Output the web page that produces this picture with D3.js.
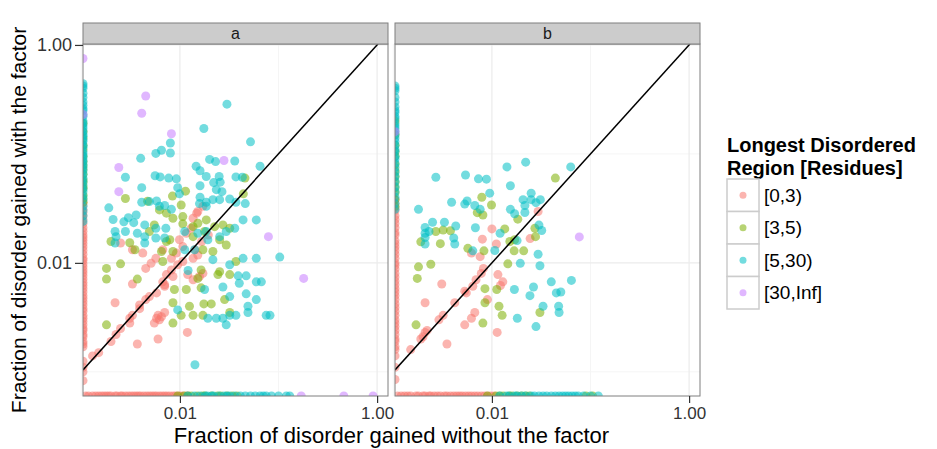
<!DOCTYPE html>
<html lang="en">
<head>
<meta charset="UTF-8">
<script src="https://cdn.jsdelivr.net/npm/d3@7"></script>
<title>Disorder gained</title>
<style>
    body { margin: 0; background: #fff; }
    svg text { font-family: "Liberation Sans", Arial, sans-serif; }
</style>
</head>
<body>
<div id="chart"></div>
<script>
// facets, legend groups and breaks
var facets = ["a", "b"];
var groups = ["[0,3)", "[3,5)", "[5,30)", "[30,Inf]"];
var groupColors = ["#F8766D", "#7CAE00", "#00BFC4", "#C77CFF"];
var tickValues = [0.01, 1];
var tickLabels = ["0.01", "1.00"];
var minorBreaks = [0.001, 0.1];

// [fraction without factor, fraction with factor, group]
var pointsA = [
    [0.0025,0.0152,0],[0.0042,0.0123,0],[0.0033,0.0132,0],[0.0045,0.0089,0],[0.0051,0.0099,0],[0.0057,0.011,0],
    [0.0067,0.0132,0],[0.0082,0.011,0],[0.0092,0.0123,0],[0.0107,0.0141,0],[0.0099,0.0163,0],[0.0116,0.0187,0],
    [0.013,0.0208,0],[0.0136,0.0257,0],[0.0152,0.0296,0],[0.0171,0.033,0],[0.0033,0.0064,0],[0.0067,0.0067,0],
    [0.0073,0.0078,0],[0.0082,0.0086,0],[0.0095,0.0096,0],[0.0107,0.0103,0],[0.007,0.0061,0],[0.0136,0.011,0],
    [0.0152,0.0118,0],[0.012,0.0078,0],[0.0136,0.007,0],[0.0158,0.0075,0],[0.0171,0.008,0],[0.0022,0.0043,0],
    [0.0039,0.0041,0],[0.0045,0.0046,0],[0.0049,0.0049,0],[0.0033,0.0033,0],[0.0031,0.0028,0],[0.0025,0.0025,0],
    [0.006,0.0033,0],[0.0062,0.003,0],[0.0055,0.0028,0],[0.007,0.0035,0],[0.0058,0.0031,0],[0.0065,0.0032,0],
    [0.0015,0.0015,0],[0.002,0.0019,0],[0.00225,0.0022,0],[0.0037,0.0018,0],[0.006,0.002,0],[0.0119,0.0023,0],
    [0.0031,0.0031,0],[0.0039,0.0038,0],[0.0058,0.0053,0],[0.007,0.0063,0],[0.0085,0.0075,0],[0.0142,0.0132,0],
    [0.0166,0.0157,0],[0.0194,0.018,0],[0.0148,0.0286,0],[0.0013,0.0014,0],
    [0.0457,0.06,1],[0.0114,0.0455,1],[0.0084,0.041,1],[0.044,0.043,1],[0.0028,0.039,1],[0.0047,0.0368,1],
    [0.0103,0.034,1],[0.0062,0.0306,1],[0.0073,0.0286,1],[0.0085,0.0257,1],[0.0107,0.0266,1],[0.002,0.0157,1],
    [0.0031,0.0153,1],[0.0035,0.0132,1],[0.0049,0.0194,1],[0.0055,0.0223,1],[0.0073,0.0157,1],[0.0079,0.0163,1],
    [0.0065,0.0127,1],[0.0085,0.0127,1],[0.0067,0.0103,1],[0.0025,0.0098,1],[0.0107,0.0228,1],[0.0136,0.0215,1],
    [0.0152,0.0231,1],[0.0185,0.0248,1],[0.0178,0.0194,1],[0.0225,0.0215,1],[0.0273,0.0223,1],[0.032,0.0208,1],
    [0.0136,0.0174,1],[0.0171,0.0132,1],[0.0216,0.0127,1],[0.0253,0.0163,1],[0.0295,0.0146,1],[0.037,0.0103,1],
    [0.0018,0.0089,1],[0.0018,0.0071,1],[0.0037,0.0071,1],[0.0152,0.0072,1],[0.0164,0.0086,1],[0.0253,0.0083,1],
    [0.0243,0.0078,1],[0.032,0.0078,1],[0.0088,0.0057,1],[0.0116,0.0057,1],[0.0164,0.0059,1],[0.0284,0.0046,1],
    [0.0085,0.0043,1],[0.0125,0.004,1],[0.0175,0.0042,1],[0.0208,0.0042,1],[0.0103,0.0033,1],[0.0171,0.0033,1],
    [0.0136,0.0033,1],[0.032,0.0035,1],[0.0018,0.0027,1],[0.0085,0.0028,1],
    [0.03,0.286,2],[0.0175,0.171,2],[0.008,0.126,2],[0.052,0.129,2],[0.0065,0.108,2],[0.0057,0.101,2],
    [0.008,0.102,2],[0.004,0.091,2],[0.02,0.089,2],[0.023,0.085,2],[0.036,0.086,2],[0.065,0.077,2],
    [0.0146,0.077,2],[0.016,0.07,2],[0.0028,0.061,2],[0.0056,0.063,2],[0.0063,0.0615,2],[0.0077,0.06,2],
    [0.0092,0.059,2],[0.0185,0.062,2],[0.025,0.062,2],[0.022,0.0545,2],[0.0256,0.055,2],[0.037,0.0615,2],
    [0.043,0.061,2],[0.0095,0.049,2],[0.016,0.051,2],[0.0041,0.049,2],[0.0234,0.047,2],[0.0267,0.045,2],
    [0.0099,0.043,2],[0.016,0.04,2],[0.0041,0.036,2],[0.0058,0.037,2],[0.0185,0.036,2],[0.0216,0.038,2],
    [0.0253,0.038,2],[0.032,0.0386,2],[0.046,0.035,2],[0.0019,0.032,2],[0.0062,0.033,2],[0.007,0.0336,2],
    [0.0049,0.0365,2],[0.0082,0.031,2],[0.0158,0.035,2],[0.0185,0.033,2],[0.037,0.036,2],[0.0021,0.025,2],
    [0.003,0.026,2],[0.0036,0.0275,2],[0.0027,0.0238,2],[0.0034,0.0234,2],[0.0044,0.0223,2],[0.0022,0.0194,2],
    [0.00225,0.0174,2],[0.0022,0.0152,2],[0.0028,0.0194,2],[0.0037,0.0187,2],[0.0044,0.0174,2],[0.0044,0.0152,2],
    [0.0057,0.0208,2],[0.0072,0.0208,2],[0.0057,0.0169,2],[0.007,0.0169,2],[0.0112,0.0194,2],[0.0152,0.0187,2],
    [0.0185,0.0194,2],[0.0192,0.0163,2],[0.0253,0.0174,2],[0.0295,0.0194,2],[0.036,0.0208,2],[0.0437,0.0248,2],
    [0.0595,0.0248,2],[0.0112,0.0132,2],[0.0141,0.0132,2],[0.0216,0.0107,2],[0.032,0.0096,2],[0.0437,0.011,2],
    [0.0595,0.011,2],[0.103,0.0113,2],[0.0121,0.0085,2],[0.0178,0.0057,2],[0.0273,0.006,2],[0.032,0.0049,2],
    [0.039,0.0076,2],[0.047,0.0076,2],[0.04,0.0065,2],[0.0595,0.0067,2],[0.067,0.0067,2],[0.047,0.0052,2],
    [0.0595,0.0046,2],[0.049,0.004,2],[0.0095,0.0037,2],[0.0192,0.0031,2],[0.0234,0.0031,2],[0.0273,0.0031,2],
    [0.032,0.0033,2],[0.037,0.0033,2],[0.049,0.0035,2],[0.075,0.0033,2],[0.082,0.0033,2],[0.0295,0.0027,2],
    [0.0142,0.00116,2],
    [0.0045,0.34,3],[0.0041,0.236,3],[0.0082,0.153,3],[0.028,0.087,3],[0.0024,0.075,3],[0.0024,0.045,3],
    [0.079,0.0174,3],[0.18,0.0072,3]
];

var pointsB = [
    [0.0294,0.0296,0],[0.01,0.0205,0],[0.0244,0.0167,0],[0.008,0.0165,0],[0.0111,0.0149,0],[0.0062,0.0123,0],
    [0.0076,0.0114,0],[0.0082,0.0089,0],[0.0115,0.0078,0],[0.0031,0.0064,0],[0.0129,0.0067,0],[0.0122,0.0062,0],
    [0.0078,0.008,0],[0.0069,0.007,0],[0.0064,0.0061,0],[0.0055,0.0053,0],[0.0042,0.0043,0],[0.0032,0.0033,0],
    [0.0029,0.003,0],[0.0021,0.0023,0],[0.002,0.0021,0],[0.0015,0.0016,0],[0.0021,0.0043,0],[0.009,0.0046,0],
    [0.0062,0.0031,0],[0.0067,0.0035,0],[0.0053,0.0027,0],[0.0113,0.0023,0],[0.0035,0.0018,0],[0.0019,0.002,0],
    [0.0022,0.0024,0],[0.0053,0.0055,0],
    [0.044,0.06,1],[0.0079,0.04,1],[0.0099,0.034,1],[0.0071,0.0289,1],[0.0081,0.0275,1],[0.0183,0.0252,1],
    [0.0027,0.0194,1],[0.0032,0.02,1],[0.0038,0.0197,1],[0.0135,0.0205,1],[0.0273,0.0208,1],[0.0277,0.0174,1],
    [0.0019,0.0156,1],[0.003,0.015,1],[0.0152,0.0157,1],[0.017,0.0163,1],[0.0057,0.0136,1],[0.0083,0.0129,1],
    [0.0168,0.0129,1],[0.021,0.0129,1],[0.0018,0.0092,1],[0.0024,0.0097,1],[0.0145,0.0098,1],[0.00175,0.0072,1],
    [0.0085,0.0058,1],[0.0112,0.0057,1],[0.0085,0.0043,1],[0.0118,0.004,1],[0.0127,0.0033,1],[0.0307,0.0035,1],
    [0.0017,0.0027,1],[0.0081,0.0028,1],
    [0.0142,0.076,2],[0.022,0.084,2],[0.063,0.076,2],[0.0027,0.061,2],[0.0054,0.064,2],[0.0073,0.059,2],
    [0.0088,0.0586,2],[0.0154,0.051,2],[0.0095,0.0436,2],[0.0039,0.036,2],[0.0056,0.037,2],[0.0053,0.0346,2],
    [0.0067,0.0336,2],[0.0076,0.031,2],[0.0207,0.038,2],[0.025,0.0436,2],[0.025,0.038,2],[0.031,0.038,2],
    [0.0216,0.0336,2],[0.0216,0.029,2],[0.0018,0.031,2],[0.0154,0.031,2],[0.017,0.0282,2],[0.028,0.0357,2],
    [0.0025,0.0236,2],[0.0033,0.0236,2],[0.0043,0.0218,2],[0.0021,0.0211,2],[0.0023,0.0194,2],[0.0021,0.0187,2],
    [0.0021,0.0171,2],[0.0068,0.021,2],[0.0121,0.0187,2],[0.03,0.0222,2],[0.032,0.0198,2],[0.0021,0.0149,2],
    [0.0041,0.0169,2],[0.0042,0.0149,2],[0.018,0.016,2],[0.0064,0.0129,2],[0.0107,0.013,2],[0.0294,0.012,2],
    [0.0194,0.0099,2],[0.0307,0.0094,2],[0.0169,0.0057,2],[0.0264,0.006,2],[0.0243,0.005,2],[0.04,0.0067,2],
    [0.064,0.0069,2],[0.045,0.0053,2],[0.05,0.0054,2],[0.033,0.004,2],[0.0475,0.004,2],[0.048,0.0035,2],
    [0.0181,0.0031,2],[0.028,0.0026,2],
    [0.077,0.0173,3]
];

// points with zero "without" fraction (left edge), per group: with-factor values
var edgeLeftA = [
    [0.036,0.034,0.031,0.029,0.027,0.025,0.023,0.021,0.0195,0.018,0.017,0.016,0.015,0.014,0.013,0.012,0.011,0.0105,
     0.0098,0.0092,0.0086,0.0081,0.0076,0.0071,0.0066,0.0062,0.0058,0.0054,0.005,0.0047,0.0044,0.0041,0.0038,0.0036,
     0.0033,0.0031,0.0029,0.0027,0.0025,0.0024,0.0022,0.0021,0.0019,0.0018,0.0017,0.00125,0.0011,0.001,0.00083],
    [0.19,0.16,0.14,0.12,0.11,0.095,0.085,0.078,0.072,0.065,0.058,0.055,0.05,0.048,0.042,0.039,0.036],
    [0.44,0.42,0.4,0.36,0.33,0.3,0.28,0.26,0.25,0.23,0.22,0.2,0.19,0.18,0.17,0.16,0.15,0.145,0.135,0.13,0.12,0.115,
     0.105,0.1,0.095,0.09,0.085,0.08,0.075,0.07,0.065,0.06,0.056,0.052,0.048,0.045,0.041,0.038,0.033,0.03,0.027,0.024],
    [0.75,0.23]
];
// points with zero "with" fraction (bottom edge), per group: without-factor values
var edgeBottomA = [
    [0.0011,0.00118,0.0013,0.0014,0.0015,0.0016,0.0017,0.0018,0.0019,0.002,0.0022,0.0023,0.0025,0.0026,0.0028,0.003,
     0.0032,0.0034,0.0036,0.0038,0.004,0.0043,0.0046,0.0049,0.0052,0.0055,0.0058,0.0062,0.0066,0.007,0.0074,0.0079,
     0.0085,0.009,0.0096,0.0102,0.011,0.012],
    [0.0095,0.011,0.012,0.013,0.015,0.017,0.018,0.021,0.024,0.026,0.03,0.034,0.038],
    [0.012,0.014,0.016,0.018,0.019,0.021,0.022,0.025,0.028,0.03,0.032,0.036,0.041,0.046,0.052,0.058,0.065,0.07,
     0.075,0.085,0.1,0.12,0.13],
    [0.17,0.46,0.91]
];
var edgeLeftB = [
    [0.038,0.035,0.032,0.03,0.027,0.025,0.023,0.021,0.019,0.018,0.016,0.015,0.014,0.013,0.012,0.011,0.01,0.0095,
     0.0088,0.008,0.0074,0.0068,0.0063,0.0058,0.0054,0.005,0.0046,0.0042,0.0039,0.0036,0.0033,0.003,0.0028,0.0026,
     0.0024,0.0022,0.002,0.0019,0.0017,0.0016,0.0014,0.0011,0.00085],
    [0.2,0.15,0.12,0.105,0.095,0.08,0.07,0.062,0.055,0.049,0.044,0.038,0.033],
    [0.42,0.4,0.38,0.33,0.3,0.27,0.25,0.24,0.22,0.21,0.19,0.18,0.17,0.16,0.15,0.14,0.13,0.12,0.11,0.105,0.095,0.09,
     0.082,0.075,0.068,0.062,0.056,0.05,0.045,0.04,0.035,0.031],
    [0.16]
];
var edgeBottomB = [
    [0.0011,0.0012,0.0013,0.0014,0.0015,0.0017,0.0018,0.002,0.0021,0.0023,0.0024,0.0026,0.0028,0.003,0.0033,0.0035,
     0.0038,0.0041,0.0044,0.0047,0.005,0.0054,0.0058,0.0062,0.0067,0.0072,0.0078,0.0084,0.009,0.0097,0.0105],
    [0.009,0.011,0.012,0.013,0.015,0.016,0.018,0.02,0.022,0.024,0.09,0.105],
    [0.012,0.014,0.015,0.017,0.018,0.02,0.022,0.025,0.027,0.03,0.033,0.036,0.04,0.044,0.048,0.052,0.056,0.06,0.065,
     0.07,0.075,0.085,0.1,0.12],
    []
];

var width = 937, height = 449;
var panelX = [83, 395], panelW = 305;
var panelTop = 44, panelBottom = 396, stripH = 21;
var fontFamily = "'Liberation Sans', Arial, sans-serif";

var svg = d3.select("#chart").append("svg")
        .attr("width", width)
        .attr("height", height);

var y = d3.scaleLog().domain([0.0006, 1.02]).range([panelBottom, panelTop]);
var color = d3.scaleOrdinal().domain(d3.range(groups.length)).range(groupColors);

function withEdges(points, left, bottom) {
    var all = [];
    left.forEach(function (vals, g) { vals.forEach(function (v) { all.push([0, v, g]); }); });
    bottom.forEach(function (vals, g) { vals.forEach(function (v) { all.push([v, 0, g]); }); });
    return all.concat(points);
}

var panelData = [
    withEdges(pointsA, edgeLeftA, edgeBottomA),
    withEdges(pointsB, edgeLeftB, edgeBottomB)
];

facets.forEach(function (name, i) {
    var x0 = panelX[i];
    var x = d3.scaleLog().domain([0.00104, 1.29]).range([x0, x0 + panelW]);
    var g = svg.append("g");

    g.append("rect")
        .attr("x", x0).attr("y", panelTop)
        .attr("width", panelW).attr("height", panelBottom - panelTop)
        .attr("fill", "#fff");

    // grid
    g.selectAll(".minx").data(minorBreaks).enter().append("line")
        .attr("x1", function (d) { return x(d); }).attr("x2", function (d) { return x(d); })
        .attr("y1", panelTop).attr("y2", panelBottom)
        .attr("stroke", "#F5F5F5").attr("stroke-width", 1);
    g.selectAll(".miny").data(minorBreaks).enter().append("line")
        .attr("y1", function (d) { return y(d); }).attr("y2", function (d) { return y(d); })
        .attr("x1", x0).attr("x2", x0 + panelW)
        .attr("stroke", "#F5F5F5").attr("stroke-width", 1);
    g.selectAll(".majx").data(tickValues).enter().append("line")
        .attr("x1", function (d) { return x(d); }).attr("x2", function (d) { return x(d); })
        .attr("y1", panelTop).attr("y2", panelBottom)
        .attr("stroke", "#EBEBEB").attr("stroke-width", 1.2);
    g.selectAll(".majy").data(tickValues).enter().append("line")
        .attr("y1", function (d) { return y(d); }).attr("y2", function (d) { return y(d); })
        .attr("x1", x0).attr("x2", x0 + panelW)
        .attr("stroke", "#EBEBEB").attr("stroke-width", 1.2);

    svg.append("clipPath").attr("id", "clip" + i)
        .append("rect")
        .attr("x", x0).attr("y", panelTop)
        .attr("width", panelW).attr("height", panelBottom - panelTop);

    var inner = g.append("g").attr("clip-path", "url(#clip" + i + ")");

    inner.selectAll("circle").data(panelData[i]).enter().append("circle")
        .attr("cx", function (d) { return d[0] > 0 ? x(d[0]) : x.range()[0]; })
        .attr("cy", function (d) { return d[1] > 0 ? y(d[1]) : y.range()[0]; })
        .attr("r", 4.5)
        .attr("fill", function (d) { return color(d[2]); })
        .attr("fill-opacity", 0.55);

    // y = x reference line
    var lo = x.domain()[0], hi = y.domain()[1];
    inner.append("line")
        .attr("x1", x(lo)).attr("y1", y(lo))
        .attr("x2", x(hi)).attr("y2", y(hi))
        .attr("stroke", "#000").attr("stroke-width", 1.5);

    g.append("rect")
        .attr("x", x0).attr("y", panelTop)
        .attr("width", panelW).attr("height", panelBottom - panelTop)
        .attr("fill", "none").attr("stroke", "#7F7F7F").attr("stroke-width", 1);

    // strip
    g.append("rect")
        .attr("x", x0).attr("y", panelTop - stripH)
        .attr("width", panelW).attr("height", stripH)
        .attr("fill", "#CCCCCC").attr("stroke", "#7F7F7F").attr("stroke-width", 1);
    g.append("text")
        .attr("x", x0 + panelW / 2).attr("y", panelTop - stripH / 2)
        .attr("dy", "0.35em").attr("text-anchor", "middle")
        .attr("font-size", 16).attr("fill", "#1A1A1A")
        .text(name);

    var xAxis = d3.axisBottom(x)
            .tickValues(tickValues)
            .tickFormat(function (d, j) { return tickLabels[j]; })
            .tickSize(7)
            .tickPadding(4);
    var ax = g.append("g")
        .attr("transform", "translate(0," + panelBottom + ")")
        .call(xAxis);
    ax.select(".domain").remove();
    ax.selectAll("line").attr("stroke", "#333").attr("stroke-width", 1.2);
    ax.selectAll("text").attr("font-size", 17).attr("fill", "#333")
        .attr("font-family", fontFamily);

    if (i === 0) {
        var yAxis = d3.axisLeft(y)
                .tickValues(tickValues)
                .tickFormat(function (d, j) { return tickLabels[j]; })
                .tickSize(8)
                .tickPadding(3);
        var ay = g.append("g")
            .attr("transform", "translate(" + x0 + ",0)")
            .call(yAxis);
        ay.select(".domain").remove();
        ay.selectAll("line").attr("stroke", "#333").attr("stroke-width", 1.2);
        ay.selectAll("text").attr("font-size", 18).attr("fill", "#333")
            .attr("font-family", fontFamily);
    }
});

// axis titles
svg.append("text")
    .attr("x", (panelX[0] + panelX[1] + panelW) / 2).attr("y", 443)
    .attr("text-anchor", "middle").attr("font-size", 22).attr("fill", "#000")
    .text("Fraction of disorder gained without the factor");
svg.append("text")
    .attr("transform", "translate(26," + (panelTop + panelBottom) / 2 + ") rotate(-90)")
    .attr("text-anchor", "middle").attr("font-size", 21).attr("fill", "#000")
    .text("Fraction of disorder gained with the factor");

// legend
var lg = svg.append("g").attr("transform", "translate(727,0)");
lg.append("text").attr("x", 0).attr("y", 152)
    .attr("font-size", 20).attr("font-weight", "bold").text("Longest Disordered");
lg.append("text").attr("x", 0).attr("y", 175)
    .attr("font-size", 20).attr("font-weight", "bold").text("Region [Residues]");

var keyH = 32.5, keyTop = 179;
var keys = lg.selectAll(".key").data(groups).enter().append("g")
    .attr("transform", function (d, i) { return "translate(0," + (keyTop + i * keyH) + ")"; });
keys.append("rect")
    .attr("width", 32).attr("height", keyH)
    .attr("fill", "#fff").attr("stroke", "#CCCCCC").attr("stroke-width", 1.5);
keys.append("circle")
    .attr("cx", 16).attr("cy", keyH / 2).attr("r", 3.5)
    .attr("fill", function (d, i) { return color(i); })
    .attr("fill-opacity", 0.55);
keys.append("text")
    .attr("x", 37).attr("y", keyH / 2).attr("dy", "0.35em")
    .attr("font-size", 19).attr("fill", "#000")
    .text(function (d) { return d; });
</script>
</body>
</html>
